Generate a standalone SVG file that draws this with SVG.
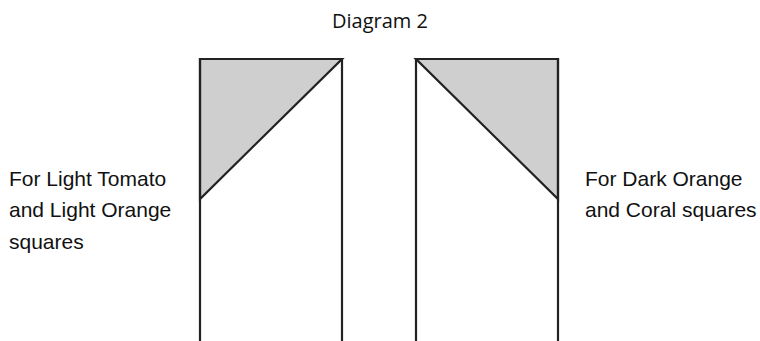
<svg xmlns="http://www.w3.org/2000/svg" width="760" height="341" viewBox="0 0 760 341">
<style>
.frame{fill:none;stroke:#222;stroke-width:2.2;stroke-linejoin:miter}
.tri{fill:#cfcfcf;stroke:#222;stroke-width:2.2;stroke-linejoin:miter}
.lbl{font-family:"Liberation Sans",Arial,sans-serif;font-size:21px;fill:#111}
.title{font-family:"Open Sans","Liberation Sans",sans-serif;font-size:20px;fill:#111}
</style>
<rect width="760" height="341" fill="#fff"/>
<text class="title" x="380" y="28" text-anchor="middle">Diagram 2</text>
<g id="left-box">
<polygon class="tri" points="200,59 342,59 200,199"/>
<polyline class="frame" points="200,342 200,59 342,59 342,342"/>
</g>
<g id="right-box">
<polygon class="tri" points="416,59 558,59 558,199"/>
<polyline class="frame" points="416,342 416,59 558,59 558,342"/>
</g>
<g id="left-label">
<text class="lbl" x="9" y="186">For Light Tomato</text>
<text class="lbl" x="9" y="217">and Light Orange</text>
<text class="lbl" x="9" y="249">squares</text>
</g>
<g id="right-label">
<text class="lbl" x="585" y="186">For Dark Orange</text>
<text class="lbl" x="585" y="217">and Coral squares</text>
</g>
</svg>
